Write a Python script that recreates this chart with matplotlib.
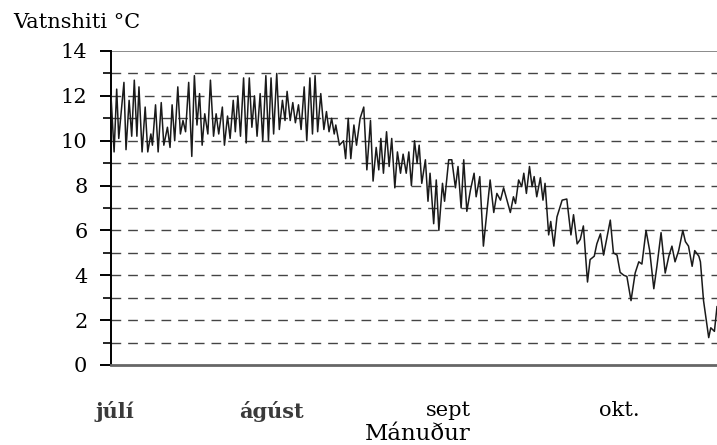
import matplotlib
matplotlib.use("Agg")
import matplotlib.pyplot as plt
import numpy as np

plt.rcParams['font.family'] = ['DejaVu Serif']

# mælingar: dagar frá 1. júlí og vatnshiti (°C), lesið af myndinni
dagar_1 = [0.0, 0.6, 1.1, 1.5, 2.5, 2.9, 3.5, 4.0, 4.5, 5.0, 5.4, 6.0, 6.6, 7.1,
           7.7, 8.0, 8.6, 9.1, 9.7, 10.2, 10.9, 11.4, 11.8, 12.3, 12.9, 13.4,
           13.9, 14.4, 15.0, 15.6, 16.1, 16.6, 17.1, 17.6, 18.1, 18.7, 19.2,
           19.8, 20.3, 20.8, 21.5, 21.9, 22.5, 23.0, 23.6, 24.0, 24.5, 25.0,
           25.6, 26.1, 26.7, 27.2, 27.7, 28.2, 28.8, 29.3, 29.9, 30.4, 30.9,
           31.4, 32.0, 32.5, 33.1, 33.6, 34.0, 34.6, 35.1, 35.6, 36.2, 36.7,
           37.3, 37.8, 38.4, 38.9, 39.4, 39.9, 40.5, 41.1, 41.6, 42.1, 42.6,
           43.1, 43.4, 44.1, 44.9, 45.3, 45.8, 46.3, 46.9, 47.4, 48.1]
hiti_1 = [12.0, 9.5, 12.3, 10.1, 12.6, 9.6, 11.8, 10.2, 12.7, 10.2, 12.4, 9.5,
          11.5, 9.5, 10.3, 9.8, 11.6, 9.5, 11.7, 9.8, 10.6, 9.7, 11.6, 10.0,
          12.4, 10.3, 10.9, 10.4, 12.6, 9.3, 12.9, 10.7, 12.1, 9.8, 11.2, 10.3,
          12.7, 10.2, 11.2, 10.3, 11.5, 9.8, 11.1, 10.1, 11.8, 10.4, 12.0, 10.2,
          12.8, 9.9, 12.8, 10.6, 12.0, 10.2, 12.1, 10.0, 12.9, 10.0, 12.8, 10.3,
          13.0, 10.5, 11.8, 10.9, 12.2, 10.9, 11.7, 10.8, 11.6, 10.5, 12.4,
          10.0, 12.8, 10.3, 12.9, 10.4, 12.1, 10.5, 11.3, 10.4, 11.0, 10.3,
          10.7, 9.8, 10.0, 9.2, 11.0, 9.2, 10.7, 9.8, 11.0]

dagar_2 = [48.8, 49.4, 50.1, 50.6, 51.2, 51.7, 52.1, 52.6, 53.2, 53.7, 54.2,
           54.8, 55.3, 55.9, 56.4, 57.0, 57.5, 58.0, 58.6, 59.1, 59.5, 60.0,
           60.7, 61.2, 61.6, 62.3, 62.8, 63.3, 64.0, 64.4, 65.2, 65.8, 66.5,
           67.0, 67.6, 68.1, 68.7, 69.4, 70.1, 70.5, 71.2, 71.9, 73.2, 73.9,
           74.5, 75.2, 75.8, 77.1, 77.7, 78.1, 78.7, 79.3, 79.7, 80.2, 80.8,
           81.3, 81.7, 82.2, 82.9, 83.4, 83.8, 84.5, 84.9, 85.5, 86.1, 87.1,
           88.0, 88.8, 89.3, 90.0, 90.6, 91.2, 92.0, 92.5, 93.3, 93.8, 94.5,
           95.1, 96.4, 97.0, 97.7, 98.3, 99.0, 99.6, 100.4, 101.2, 101.9,
           102.5, 103.3, 104.0, 104.8, 105.4, 106.2, 107.0, 107.7, 108.3,
           108.9, 109.6, 110.4, 110.9, 111.5, 112.2, 112.7, 113.5, 113.8,
           114.4, 114.9, 115.4, 115.8, 116.5, 117.0]
hiti_2 = [11.5, 8.7, 10.9, 8.2, 9.7, 8.7, 10.1, 8.55, 10.4, 8.85, 10.1, 7.9,
          9.5, 8.55, 9.4, 8.55, 9.5, 8.0, 10.0, 9.0, 9.8, 8.1, 9.15, 7.3, 8.55,
          6.3, 8.25, 6.0, 8.1, 7.3, 9.15, 9.15, 7.9, 8.85, 7.0, 9.15, 6.85, 7.8,
          8.55, 7.5, 8.4, 5.3, 8.25, 6.8, 7.65, 7.35, 7.9, 6.8, 7.5, 7.2, 8.25,
          7.95, 8.55, 7.65, 8.85, 7.95, 8.4, 7.5, 8.35, 7.35, 8.1, 5.8, 6.4,
          5.3, 6.6, 7.35, 7.4, 5.8, 6.7, 5.4, 5.6, 6.2, 3.7, 4.7, 4.85, 5.4,
          5.85, 4.9, 6.46, 5.0, 4.9, 4.13, 4.0, 3.95, 2.87, 4.1, 4.6, 4.5, 6.0,
          5.1, 3.4, 4.4, 5.9, 4.1, 4.85, 5.3, 4.6, 5.1, 6.0, 5.5, 5.3, 4.4,
          5.1, 4.85, 4.6, 2.87, 2.04, 1.22, 1.66, 1.5, 2.6]

manudir = ['júlí', 'ágúst', 'sept', 'okt.']
manudir_stadur = [0.8, 30.9, 65.1, 98.1]

dagar = np.array(dagar_1 + dagar_2)
hiti = np.array(hiti_1 + hiti_2)

fig = plt.figure(figsize=(7.17, 4.45), dpi=100)
ax = fig.add_axes([0.1548, 0.1798, 0.8452, 0.7056])

# gridlínur
for v in range(1, 14):
    ax.axhline(v, color='#444444', lw=1.0, ls=(0, (7, 5)), zorder=1)
ax.axhline(14, color='#777777', lw=1.2, zorder=1)

ax.plot(dagar, hiti, color='#1a1a1a', lw=1.1, zorder=3)

ax.set_xlim(0, 117)
ax.set_ylim(0, 14)

ax.spines['top'].set_visible(False)
ax.spines['right'].set_visible(False)
ax.spines['left'].set_linewidth(1.4)
ax.spines['bottom'].set_color('#666666')
ax.spines['bottom'].set_linewidth(2.0)

ax.set_yticks(range(0, 15, 2))
ax.set_yticks(range(1, 14, 2), minor=True)
ax.tick_params(axis='y', which='major', length=8, width=1.4, pad=9, labelsize=15)
ax.tick_params(axis='y', which='minor', length=6, width=1.2)

ax.set_xticks(manudir_stadur, manudir)
ax.tick_params(axis='x', length=0, pad=26, labelsize=15)
for i, lbl in enumerate(ax.get_xticklabels()):
    if i < 2:
        lbl.set_fontweight('bold')
        lbl.set_color('#3a3a3a')

fig.text(13 / 717, 1 - 28 / 445, 'Vatnshiti °C', fontsize=15, va='baseline', ha='left')
fig.text(418 / 717, 1 - 440 / 445, 'Mánuður', fontsize=16.5, va='baseline', ha='center')

fig.savefig('out.png', dpi=100)
